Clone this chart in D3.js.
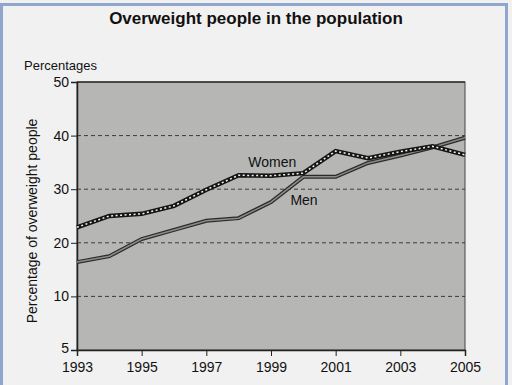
<!DOCTYPE html>
<html>
<head>
<meta charset="utf-8">
<script src="https://cdn.jsdelivr.net/npm/d3@7"></script>
<style>
  body { margin: 0; background: #f1f1f1; }
  svg { display: block; font-family: "Liberation Sans", Arial, sans-serif; }
</style>
</head>
<body>
<div id="chart"></div>
<script>
var years = [1993, 1994, 1995, 1996, 1997, 1998, 1999, 2000, 2001, 2002, 2003, 2004, 2005];
var women = [22.9, 25.0, 25.4, 26.9, 29.9, 32.6, 32.5, 33.0, 37.1, 35.8, 37.0, 38.0, 36.4];
var men = [16.4, 17.5, 20.7, 22.4, 24.1, 24.6, 27.6, 32.3, 32.3, 34.9, 36.3, 37.8, 39.6];
var yTicks = [0, 10, 20, 30, 40, 50];
var yTickLabels = ["5", "10", "20", "30", "40", "50"];
var xTicks = [1993, 1995, 1997, 1999, 2001, 2003, 2005];

var svg = d3.select("#chart").append("svg")
  .attr("width", 512)
  .attr("height", 385);

// frame
svg.append("rect")
  .attr("x", 1.5).attr("y", 4.5)
  .attr("width", 505).attr("height", 390)
  .attr("fill", "#f1f1f1")
  .attr("stroke", "#8fa6cf")
  .attr("stroke-width", 3);

var margin = { left: 77, top: 82, right: 47, bottom: 35 };
var width = 512 - margin.left - margin.right,
  height = 385 - margin.top - margin.bottom;

var x = d3.scaleLinear().domain([1993, 2005]).range([0, width]);
var y = d3.scaleLinear().domain([0, 50]).range([height, 0]);

var g = svg.append("g")
  .attr("transform", "translate(" + margin.left + "," + margin.top + ")");

g.append("rect")
  .attr("width", width).attr("height", height)
  .attr("fill", "#b6b7b5")
  .attr("stroke", "#444").attr("stroke-width", 1);

// dashed gridlines
g.selectAll(".grid")
  .data(yTicks.filter(function (d) { return d > 0 && d < 50; }))
  .enter().append("line")
  .attr("x1", 0).attr("x2", width)
  .attr("y1", function (d) { return y(d); })
  .attr("y2", function (d) { return y(d); })
  .attr("stroke", "#3a3a3a")
  .attr("stroke-width", 1)
  .attr("stroke-dasharray", "4,3");

// top border a bit darker
g.append("line").attr("x1", 0).attr("x2", width).attr("y1", 0).attr("y2", 0)
  .attr("stroke", "#333").attr("stroke-width", 1.5);

var yAxis = g.append("g")
  .call(d3.axisLeft(y).tickValues(yTicks)
    .tickFormat(function (d, i) { return yTickLabels[i]; })
    .tickSize(6).tickPadding(2));
yAxis.select(".domain").attr("stroke", "#222").attr("stroke-width", 1.5);
yAxis.selectAll("line").attr("stroke", "#222");
yAxis.selectAll("text").attr("font-size", "14px").attr("fill", "#111")
  .attr("font-family", "Liberation Sans, Arial, sans-serif");
yAxis.selectAll(".tick").filter(function (d) { return d === 0; })
  .select("text").attr("dy", "0.2em");

var xAxis = g.append("g")
  .attr("transform", "translate(0," + height + ")")
  .call(d3.axisBottom(x).tickValues(xTicks).tickFormat(d3.format("d"))
    .tickSize(6).tickPadding(6));
xAxis.select(".domain").attr("stroke", "#222").attr("stroke-width", 1.5);
xAxis.selectAll("line").attr("stroke", "#222");
xAxis.selectAll("text").attr("font-size", "14px").attr("fill", "#111")
  .attr("font-family", "Liberation Sans, Arial, sans-serif");

var line = d3.line()
  .x(function (d, i) { return x(years[i]); })
  .y(function (d) { return y(d); });

// men: double line
g.append("path").datum(men).attr("d", line)
  .attr("fill", "none").attr("stroke", "#2b2b2b").attr("stroke-width", 4);
g.append("path").datum(men).attr("d", line)
  .attr("fill", "none").attr("stroke", "#8c8c8c").attr("stroke-width", 1.5);

// women: black with white dots
g.append("path").datum(women).attr("d", line)
  .attr("fill", "none").attr("stroke", "#151515").attr("stroke-width", 4.5);
g.append("path").datum(women).attr("d", line)
  .attr("fill", "none").attr("stroke", "#f2f2f2").attr("stroke-width", 1.5)
  .attr("stroke-dasharray", "2,2.5");

g.append("text")
  .attr("x", x(1998.3)).attr("y", y(34.1))
  .attr("font-size", "14px").attr("fill", "#111")
  .text("Women");
g.append("text")
  .attr("x", x(1999.6)).attr("y", y(27.0))
  .attr("font-size", "14px").attr("fill", "#111")
  .text("Men");

svg.append("text")
  .attr("x", 256).attr("y", 24)
  .attr("text-anchor", "middle")
  .attr("font-size", "17px").attr("font-weight", "bold")
  .attr("fill", "#111")
  .text("Overweight people in the population");

svg.append("text")
  .attr("x", 24).attr("y", 70)
  .attr("font-size", "13px").attr("fill", "#111")
  .text("Percentages");

svg.append("text")
  .attr("transform", "translate(37," + (margin.top + height / 2 + 5) + ") rotate(-90)")
  .attr("text-anchor", "middle")
  .attr("font-size", "14px").attr("fill", "#111")
  .text("Percentage of overweight people");
</script>
</body>
</html>
